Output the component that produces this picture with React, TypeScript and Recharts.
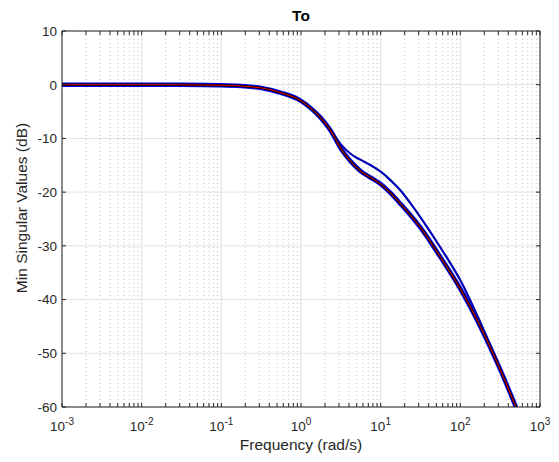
import React from "react";
import { LineChart, Line, XAxis, YAxis, CartesianGrid } from "recharts";

// Frequency samples (rad/s)
const freqs = [
  0.001, 0.01, 0.0316, 0.1, 0.178, 0.316, 0.562, 1, 1.334, 1.778, 2.371,
  3.162, 4.217, 5.623, 7.499, 10, 13.34, 17.78, 23.71, 31.62, 56.23, 100,
  177.8, 316.2, 501.2,
];
// Main bundle of min singular values (dB)
const lowerDb = [
  0, 0, -0.02, -0.1, -0.25, -0.6, -1.5, -3.0, -4.4, -6.2, -8.6, -11.9, -14.3,
  -16.1, -17.3, -18.5, -20.2, -22.2, -24.3, -26.6, -32.1, -38.0, -45.0, -53.0,
  -60.1,
];
// Upper (separate) curve (dB)
const upperDb = [
  0, 0, -0.02, -0.1, -0.25, -0.6, -1.5, -3.0, -4.4, -6.2, -8.5, -11.1, -12.9,
  -14.0, -15.0, -16.2, -17.8, -19.7, -22.1, -24.7, -30.3, -36.4, -44.2, -52.8,
  -60.0,
];

const majorTicks = [0.001, 0.01, 0.1, 1, 10, 100, 1000];
const decadeExps = ["-3", "-2", "-1", "0", "1", "2", "3"];
const allTicks: number[] = [];
[0.001, 0.01, 0.1, 1, 10, 100].forEach((d) => {
  for (let k = 1; k < 10; k++) allTicks.push(+(d * k).toPrecision(3));
});
allTicks.push(1000);
const yTicks = [-60, -50, -40, -30, -20, -10, 0, 10];

const data = freqs.map((f, i) => ({ f, lower: lowerDb[i], upper: upperDb[i] }));

const FONT = '"Liberation Sans", Arial, Helvetica, sans-serif';
const TXT = "#262626";

const XTick = (props: any) => {
  const { x, y, payload } = props;
  const idx = majorTicks.indexOf(payload.value);
  const exp = idx >= 0 ? decadeExps[idx] : "";
  return (
    <text x={x} y={y + 22} textAnchor="middle" fontFamily={FONT} fontSize={13.5} fill={TXT}>
      <tspan>10</tspan>
      <tspan fontSize={10} dy={-6}>{exp}</tspan>
    </text>
  );
};

const EmptyTick = () => <g />;

export default function App() {
  return (
    <div style={{ position: "absolute", left: 0, top: 0, width: 559, height: 462, background: "#fff" }}>
      <LineChart
        width={559}
        height={462}
        data={data}
        margin={{ top: 31, right: 19, left: 0, bottom: 0 }}
      >
        <CartesianGrid
          xAxisId="tb"
          yAxisId="main"
          horizontal={false}
          stroke="#c4c4c4"
          strokeDasharray="1 3"
        />
        <CartesianGrid xAxisId="main" yAxisId="main" stroke="#e3e3e3" />
        <XAxis
          xAxisId="main"
          dataKey="f"
          type="number"
          scale="log"
          domain={[0.001, 1000]}
          allowDataOverflow
          ticks={majorTicks}
          tick={<XTick />}
          tickLine={false}
          tickSize={0}
          height={55}
          axisLine={{ stroke: TXT }}
          interval={0}
        />
        <XAxis
          xAxisId="tb"
          dataKey="f"
          type="number"
          scale="log"
          domain={[0.001, 1000]}
          allowDataOverflow
          ticks={allTicks}
          tick={EmptyTick}
          mirror
          tickSize={4}
          tickLine={{ stroke: TXT }}
          axisLine={false}
          interval={0}
        />
        <XAxis
          xAxisId="top"
          orientation="top"
          dataKey="f"
          type="number"
          scale="log"
          domain={[0.001, 1000]}
          allowDataOverflow
          ticks={allTicks}
          tick={EmptyTick}
          mirror
          tickSize={4}
          tickLine={{ stroke: TXT }}
          axisLine={{ stroke: TXT }}
          interval={0}
        />
        <YAxis
          yAxisId="main"
          type="number"
          domain={[-60, 10]}
          allowDataOverflow
          ticks={yTicks}
          width={62}
          tickSize={4}
          tickMargin={1}
          tickLine={{ stroke: TXT, transform: "translate(4,0)" }}
          axisLine={{ stroke: TXT }}
          tick={{ fontSize: 13.5, fill: TXT, fontFamily: FONT }}
          interval={0}
        />
        <YAxis
          yAxisId="right"
          orientation="right"
          type="number"
          domain={[-60, 10]}
          allowDataOverflow
          ticks={yTicks}
          mirror
          tick={EmptyTick}
          tickSize={4}
          tickLine={{ stroke: TXT }}
          axisLine={{ stroke: TXT }}
          interval={0}
        />
        <Line
          xAxisId="main"
          yAxisId="main"
          dataKey="lower"
          type="monotone"
          stroke="#0000ff"
          strokeWidth={4.5}
          dot={false}
          isAnimationActive={false}
        />
        <Line
          xAxisId="top"
          yAxisId="main"
          dataKey="upper"
          type="monotone"
          stroke="#0000b4"
          strokeWidth={2.2}
          dot={false}
          isAnimationActive={false}
        />
        <Line
          xAxisId="main"
          yAxisId="main"
          dataKey="lower"
          type="monotone"
          stroke="#000000"
          strokeWidth={2.4}
          dot={false}
          isAnimationActive={false}
        />
        <Line
          xAxisId="tb"
          yAxisId="right"
          dataKey="lower"
          type="monotone"
          stroke="#ff0000"
          strokeWidth={0.9}
          dot={false}
          isAnimationActive={false}
        />
      </LineChart>
      <div
        style={{
          position: "absolute", left: 62, width: 478, top: 6, textAlign: "center",
          fontFamily: FONT, fontSize: 15.5, fontWeight: "bold", color: "#000", lineHeight: "20px",
        }}
      >
        To
      </div>
      <div
        style={{
          position: "absolute", left: 62, width: 478, top: 435, textAlign: "center",
          fontFamily: FONT, fontSize: 15.5, color: TXT, lineHeight: "20px",
        }}
      >
        Frequency (rad/s)
      </div>
      <div
        style={{
          position: "absolute", left: 22, top: 208, width: 0, height: 0,
        }}
      >
        <div
          style={{
            position: "absolute", left: -150, top: -10, width: 300, textAlign: "center",
            transform: "rotate(-90deg)", fontFamily: FONT, fontSize: 15.5, color: TXT,
            lineHeight: "20px", whiteSpace: "nowrap",
          }}
        >
          Min Singular Values (dB)
        </div>
      </div>
    </div>
  );
}
